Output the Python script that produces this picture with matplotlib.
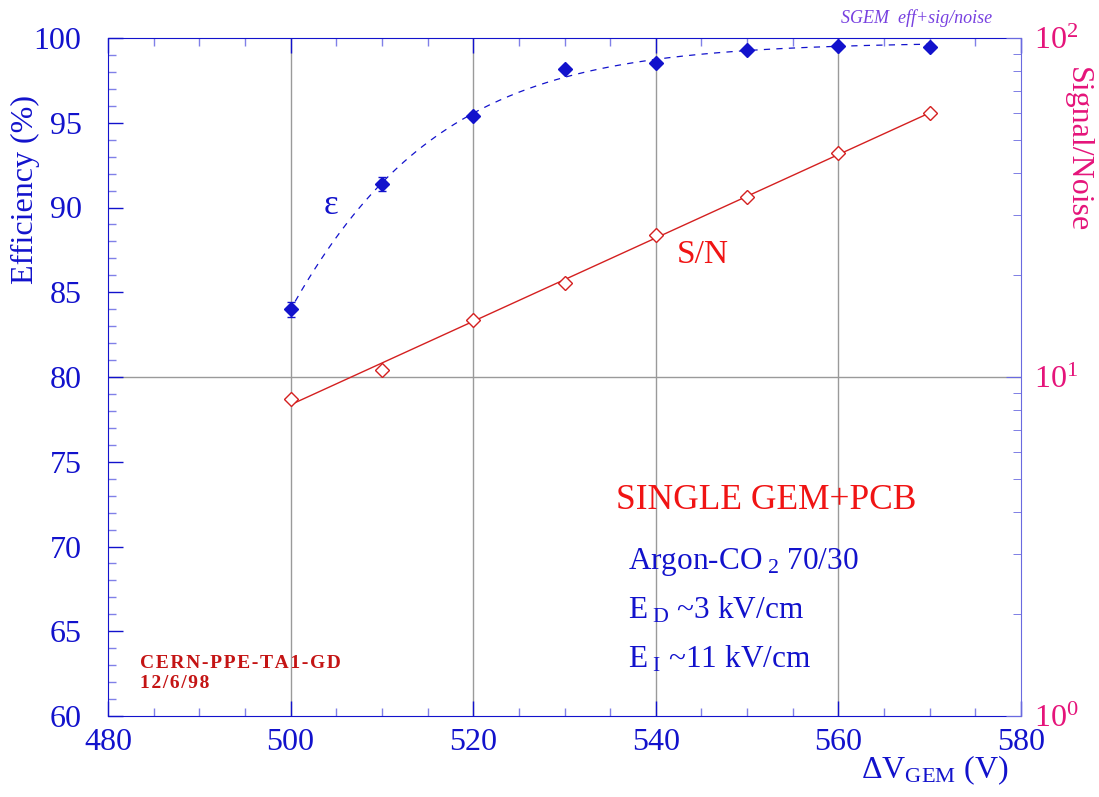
import numpy as np
import matplotlib
matplotlib.use('Agg')
import matplotlib.pyplot as plt
from matplotlib.ticker import MultipleLocator, LogLocator, LogFormatterMathtext, NullFormatter

plt.rcParams['font.family'] = ['Liberation Serif', 'DejaVu Serif']
plt.rcParams['mathtext.fontset'] = 'custom'
plt.rcParams['mathtext.rm'] = 'Liberation Serif'
plt.rcParams['mathtext.it'] = 'Liberation Serif:italic'

# data
voltage = [500, 510, 520, 530, 540, 550, 560, 570]
efficiency = [84.0, 91.4, 95.4, 98.2, 98.5, 99.3, 99.55, 99.45]
eff_err = [0.45, 0.4, 0.15, 0.1, 0.1, 0.1, 0.1, 0.1]
signal_noise = [8.6, 10.5, 14.7, 19.0, 26.2, 34.0, 45.7, 60.0]

BLUE = '#1212cc'
RED = '#f01414'
PINK = '#e5147a'

fig = plt.figure(figsize=(10.99, 7.97), dpi=100)
ax = fig.add_axes([108/1099, 1-716/797, (1021-108)/1099, (716-38)/797])
ax2 = ax.twinx()

x = np.array(voltage, dtype=float)
y = np.array(efficiency)

# fermi-like fit for the efficiency (crude grid search)
best = None
for a in np.linspace(99.0, 100.5, 31):
    for b in np.linspace(440, 490, 101):
        for c in np.linspace(8, 22, 57):
            f = a / (1 + np.exp(-(x - b) / c))
            s = np.sum((f - y) ** 2)
            if best is None or s < best[0]:
                best = (s, a, b, c)
_, a, b, c = best
xs = np.linspace(500.5, 570, 200)
ax.plot(xs, a / (1 + np.exp(-(xs - b) / c)), linestyle=(0, (5, 5)), color=BLUE, lw=0.9, zorder=3)
ax.errorbar(voltage, efficiency, yerr=eff_err, fmt='D', color=BLUE, ms=7, capsize=3, elinewidth=1, zorder=4)

# exponential fit for S/N
z = np.polyfit(x, np.log10(signal_noise), 1)
xs2 = np.linspace(500, 570, 100)
ax2.plot(xs2, 10 ** np.polyval(z, xs2), color='#d42020', lw=1.0)
ax2.plot(voltage, signal_noise, 'D', mfc='white', mec='#d42020', ms=7.5, mew=1.0, zorder=4)

ax.set_xlim(480, 580)
ax.set_ylim(60, 100)
ax2.set_yscale('log')
ax2.set_ylim(1, 100)

# grid
for v in [500, 520, 540, 560]:
    ax.axvline(v, color='#9a9a9a', lw=1.0, zorder=1)
ax.axhline(80, color='#9a9a9a', lw=1.0, zorder=1)

for sp in ['left', 'bottom', 'top']:
    ax.spines[sp].set_color(BLUE)
ax2.spines['right'].set_color('#6a6ae0')
for sp in ['left', 'bottom', 'top']:
    ax2.spines[sp].set_visible(False)
ax.spines['right'].set_visible(False)

ax.xaxis.set_major_locator(MultipleLocator(20))
ax.xaxis.set_minor_locator(MultipleLocator(5))
ax.yaxis.set_major_locator(MultipleLocator(5))
ax.yaxis.set_minor_locator(MultipleLocator(1))
ax.tick_params(axis='both', which='both', direction='in', top=True, right=False, colors=BLUE, labelsize=23)
ax.tick_params(axis='both', which='major', length=11, width=1)
ax.tick_params(axis='both', which='minor', length=6, width=1, color='#8080e8')
ax.tick_params(axis='y', which='major', pad=19)
ax.tick_params(axis='x', which='major', pad=9)

ax2.yaxis.set_major_locator(LogLocator(base=10))
ax2.yaxis.set_minor_locator(LogLocator(base=10, subs=np.arange(2, 10)))
ax2.yaxis.set_major_formatter(LogFormatterMathtext())
ax2.yaxis.set_minor_formatter(NullFormatter())
ax2.tick_params(axis='y', which='both', direction='in', color='#6a6ae0', labelcolor=PINK, labelsize=23)
ax2.tick_params(axis='y', which='major', length=11, pad=9)
ax2.tick_params(axis='y', which='minor', length=6)

# labels
fig.text(25/1099, 1-190/797, 'Efficiency (%)', rotation=90, color=BLUE, fontsize=23, ha='center', va='center')
fig.text(1077/1099, 1-150/797, 'Signal/Noise', rotation=270, color=PINK, fontsize=23, ha='center', va='center')
fig.text(935/1099, 1-770/797, r'$\Delta$V$_{\rm GEM}$ (V)', color=BLUE, fontsize=23, ha='center', va='center')
fig.text(917/1099, 1-18/797, 'SGEM  eff+sig/noise', color='#7740e0', fontsize=13, style='italic', ha='center', va='center')

fig.text(331/1099, 1-205/797, 'ε', color=BLUE, fontsize=25, ha='center', va='center')
fig.text(703/1099, 1-255/797, 'S/N', color=RED, fontsize=24, ha='center', va='center')
fig.text(616/1099, 1-500/797, 'SINGLE GEM+PCB', color=RED, fontsize=25.5, ha='left', va='center')
fig.text(628/1099, 1-562/797, r'Argon-CO$_{\ 2}$ 70/30', color=BLUE, fontsize=22.5, ha='left', va='center')
fig.text(628/1099, 1-610/797, r'E$_{\ \rm D}$ ~3 kV/cm', color=BLUE, fontsize=22.5, ha='left', va='center')
fig.text(628/1099, 1-659/797, r'E$_{\ \rm I}$ ~11 kV/cm', color=BLUE, fontsize=22.5, ha='left', va='center')
stamp = ['CERN-PPE-TA1-GD', '12/6/98']
fig.text(140/1099, 1-663/797, '\u200a'.join(stamp[0]), color='#c41414', fontsize=14,
         fontweight='bold', ha='left', va='center')
fig.text(140/1099, 1-684/797, '\u200a'.join(stamp[1]), color='#c41414', fontsize=14,
         fontweight='bold', ha='left', va='center')

fig.savefig('out.png', dpi=100, facecolor='white')
